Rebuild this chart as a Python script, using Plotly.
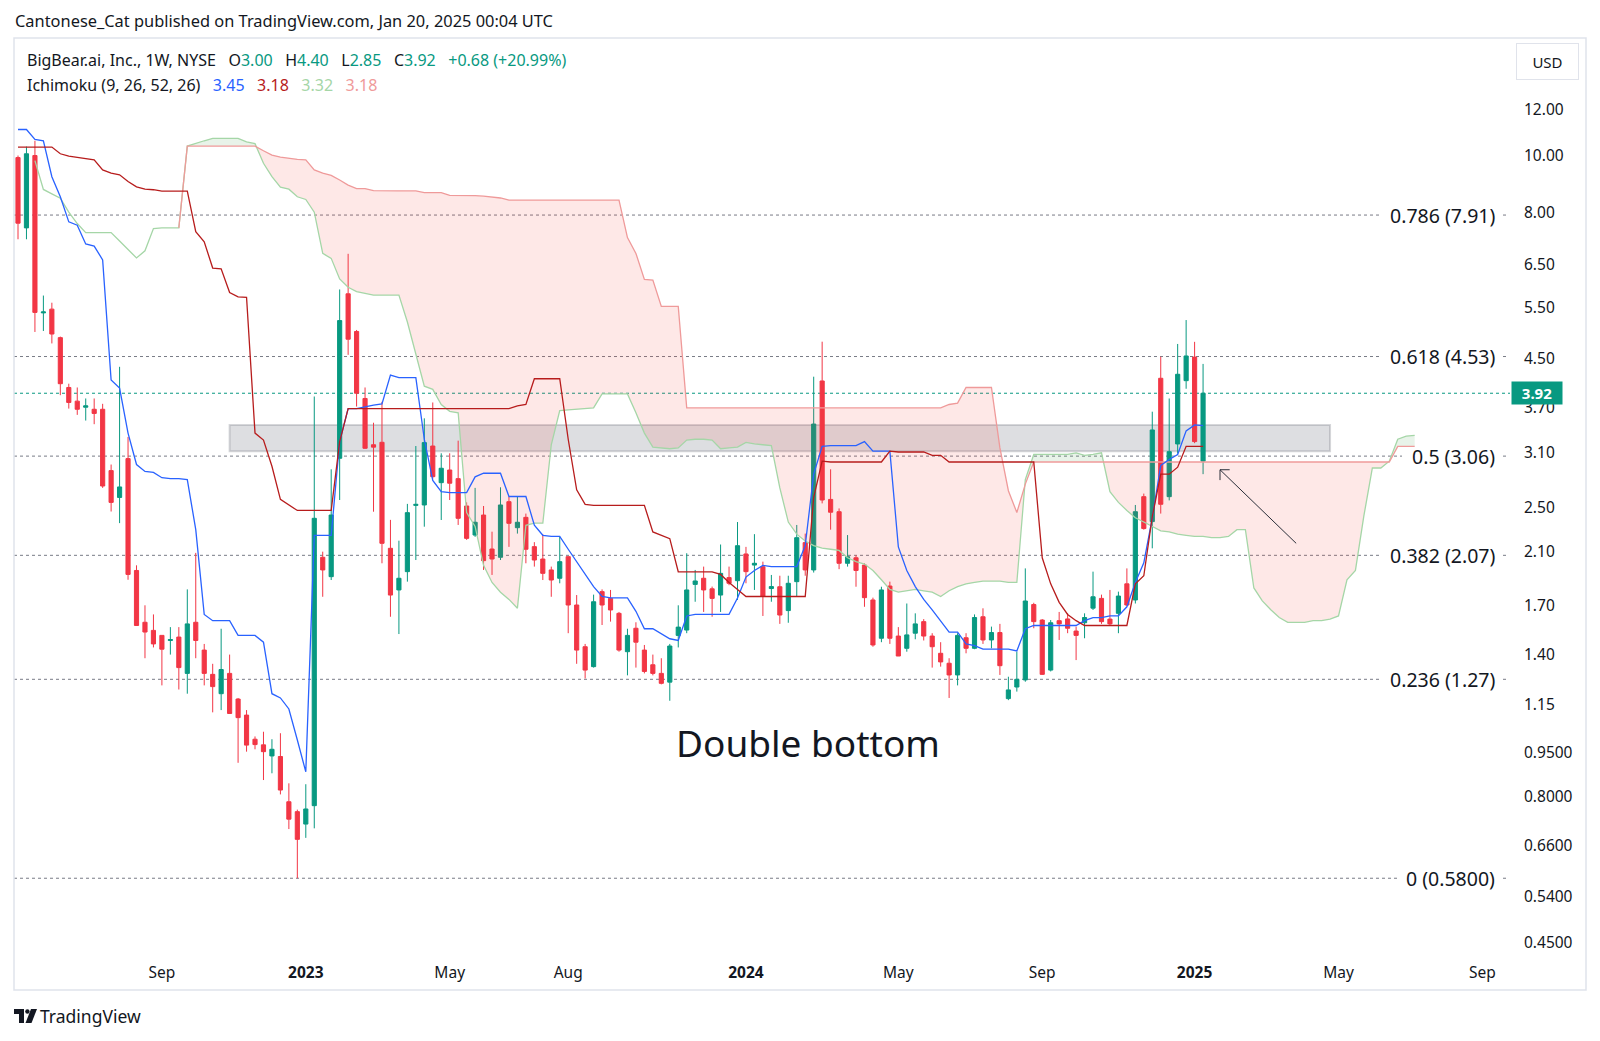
import math
import datetime as dt
import plotly.graph_objects as go

# ---------------- data (weekly bars, BBAI, NYSE) ----------------
FIRST_BAR = dt.datetime(2022, 5, 9)

opens = [9.92, 7.52, 10.0, 5.38, 5.46, 4.88, 4.01, 3.80, 3.71, 3.68,
         3.68, 2.89, 2.60, 3.03, 1.95, 1.59, 1.54, 1.51, 1.48, 1.50,
         1.30, 1.59, 1.425, 1.295, 1.20, 1.30, 1.175, 1.103, 1.003, 0.981,
         0.939, 0.937, 0.784, 0.754, 0.718, 0.772, 2.054, 1.903, 3.034, 5.80,
         5.00, 3.84, 3.20, 3.231, 2.128, 1.806, 1.941, 2.52, 2.524, 3.184,
         2.756, 2.897, 2.80, 2.514, 2.242, 2.426, 2.122, 2.054, 2.557, 2.308,
         2.404, 2.142, 2.04, 1.954, 1.891, 2.059, 1.702, 1.444, 1.335, 1.794,
         1.747, 1.647, 1.416, 1.553, 1.425, 1.345, 1.30, 1.256, 1.51, 1.542,
         1.846, 1.891, 1.814, 1.770, 1.896, 1.873, 2.081, 1.992, 1.979, 1.816,
         1.829, 1.665, 1.866, 2.176, 1.954, 4.114, 2.58, 2.458, 2.006, 2.05,
         1.992, 1.736, 1.493, 1.834, 1.506, 1.435, 1.523, 1.594, 1.506, 1.407,
         1.353, 1.292, 1.496, 1.435, 1.625, 1.483, 1.527, 1.177, 1.232, 1.267,
         1.705, 1.604, 1.317, 1.60, 1.611, 1.536, 1.587, 1.681, 1.747, 1.61,
         1.647, 1.85, 1.736, 2.608, 2.364, 4.158, 2.608, 3.21, 4.119, 4.52,
         3.00]

highs = [10.0, 10.36, 10.6, 5.76, 5.60, 4.90, 4.07, 4.01, 3.84, 3.84,
         3.76, 2.96, 4.35, 3.30, 1.99, 1.70, 1.64, 1.51, 1.56, 1.56,
         1.81, 2.09, 1.46, 1.35, 1.55, 1.40, 1.18, 1.125, 1.014, 1.033,
         1.003, 1.027, 0.843, 0.76, 0.84, 3.87, 2.10, 2.905, 5.90, 6.79,
         5.03, 4.01, 3.49, 3.79, 2.38, 2.193, 2.535, 3.184, 3.551, 3.78,
         3.094, 3.094, 3.252, 2.55, 2.70, 2.514, 2.272, 2.706, 2.61, 2.61,
         2.44, 2.18, 2.25, 1.98, 2.226, 2.059, 1.77, 1.46, 1.773, 1.81,
         1.806, 1.656, 1.55, 1.59, 1.454, 1.40, 1.38, 1.46, 1.70, 2.087,
         1.954, 1.98, 1.83, 2.16, 1.98, 2.36, 2.14, 2.25, 2.019, 1.916,
         1.91, 1.91, 2.333, 2.255, 4.184, 4.803, 2.905, 2.49, 2.242, 2.07,
         2.006, 1.752, 1.829, 1.866, 1.56, 1.712, 1.647, 1.61, 1.523, 1.47,
         1.38, 1.523, 1.523, 1.64, 1.68, 1.563, 1.58, 1.283, 1.416, 1.966,
         1.717, 1.61, 1.604, 1.656, 1.647, 1.563, 1.647, 1.941, 1.773, 1.806,
         1.794, 1.966, 2.524, 2.64, 3.645, 4.527, 3.84, 4.76, 5.23, 4.80,
         4.40]

lows = [7.19, 7.19, 4.99, 5.01, 4.77, 3.89, 3.69, 3.60, 3.52, 3.47,
        2.70, 2.46, 2.35, 1.88, 1.57, 1.38, 1.44, 1.24, 1.40, 1.22,
        1.20, 1.38, 1.24, 1.115, 1.125, 1.11, 0.914, 0.955, 0.964, 0.854,
        0.877, 0.807, 0.704, 0.58, 0.68, 0.706, 1.758, 1.878, 2.574, 4.56,
        3.72, 3.15, 2.458, 2.006, 1.625, 1.518, 1.866, 2.032, 2.317, 2.80,
        2.379, 2.574, 2.333, 2.20, 2.226, 1.954, 1.916, 2.032, 2.14, 2.255,
        2.006, 1.98, 1.878, 1.758, 1.854, 1.523, 1.35, 1.274, 1.33, 1.573,
        1.594, 1.416, 1.29, 1.33, 1.30, 1.29, 1.245, 1.167, 1.44, 1.523,
        1.724, 1.656, 1.625, 1.656, 1.84, 1.736, 1.854, 1.806, 1.63, 1.724,
        1.58, 1.587, 1.758, 1.91, 1.934, 2.54, 2.29, 1.96, 1.98, 1.829,
        1.69, 1.444, 1.47, 1.46, 1.392, 1.416, 1.487, 1.48, 1.33, 1.335,
        1.18, 1.24, 1.407, 1.43, 1.46, 1.435, 1.292, 1.17, 1.21, 1.258,
        1.553, 1.292, 1.31, 1.483, 1.523, 1.37, 1.493, 1.669, 1.58, 1.573,
        1.523, 1.695, 1.712, 2.29, 2.128, 2.44, 2.57, 3.09, 3.99, 3.22,
        2.85]

closes = [7.66, 10.07, 5.39, 5.40, 4.95, 4.07, 3.78, 3.68, 3.73, 3.62,
          2.72, 2.55, 2.71, 1.92, 1.57, 1.53, 1.46, 1.43, 1.485, 1.33,
          1.58, 1.48, 1.30, 1.234, 1.32, 1.11, 1.092, 0.98, 0.982, 0.955,
          0.964, 0.821, 0.732, 0.676, 0.762, 2.395, 1.954, 2.426, 5.22, 4.85,
          3.92, 3.156, 3.17, 2.17, 1.77, 1.891, 2.449, 2.53, 3.227, 2.822,
          2.917, 2.75, 2.395, 2.213, 2.358, 2.027, 2.04, 2.524, 2.348, 2.358,
          2.12, 2.032, 1.928, 1.878, 2.019, 1.702, 1.425, 1.317, 1.724, 1.702,
          1.669, 1.425, 1.51, 1.47, 1.31, 1.30, 1.25, 1.448, 1.56, 1.806,
          1.871, 1.806, 1.747, 1.928, 1.854, 2.15, 1.941, 2.006, 1.763, 1.83,
          1.636, 1.854, 2.219, 1.954, 3.472, 2.574, 2.453, 2.006, 2.059, 1.95,
          1.752, 1.454, 1.806, 1.493, 1.392, 1.513, 1.58, 1.506, 1.444, 1.36,
          1.292, 1.51, 1.435, 1.62, 1.483, 1.527, 1.34, 1.218, 1.27, 1.729,
          1.594, 1.295, 1.587, 1.58, 1.553, 1.51, 1.62, 1.758, 1.594, 1.58,
          1.763, 1.702, 2.458, 2.30, 3.392, 2.531, 3.114, 4.224, 4.54, 3.24,
          3.92]

# Ichimoku (9, 26, 52, 26)
tenkan = [11.08, 11.08, 10.66, 10.6, 9.2, 8.5, 7.7, 7.6, 7.06, 7.0,
          6.63, 4.13, 4.0, 3.35, 2.96, 2.88, 2.87, 2.81, 2.80, 2.80,
          2.79, 2.29, 1.64, 1.60, 1.60, 1.60, 1.51, 1.51, 1.51, 1.47,
          1.20, 1.18, 1.13, 1.00, 0.882, 2.24, 2.24, 2.24, 3.24, 3.69,
          3.69, 3.72, 3.74, 3.76, 4.21, 4.17, 4.17, 4.17, 3.27, 2.78,
          2.66, 2.65, 2.65, 2.65, 2.82, 2.86, 2.86, 2.86, 2.61, 2.61,
          2.61, 2.33, 2.24, 2.23, 2.23, 2.12, 2.02, 1.92, 1.83, 1.76,
          1.75, 1.75, 1.75, 1.66, 1.55, 1.55, 1.52, 1.49, 1.48, 1.63,
          1.64, 1.64, 1.64, 1.64, 1.64, 1.75, 1.90, 1.95, 1.99, 1.98,
          1.98, 1.98, 1.98, 2.15, 2.85, 3.18, 3.19, 3.19, 3.19, 3.19,
          3.24, 3.12, 3.12, 3.12, 2.14, 1.95, 1.83, 1.74, 1.67, 1.60,
          1.53, 1.53, 1.46, 1.45, 1.43, 1.43, 1.43, 1.43, 1.42, 1.55,
          1.57, 1.57, 1.57, 1.57, 1.57, 1.57, 1.60, 1.62, 1.62, 1.63,
          1.63, 1.69, 1.86, 2.01, 2.40, 2.95, 3.02, 3.08, 3.38, 3.46,
          3.45]

kijun = [10.34, 10.34, 10.34, 10.34, 10.34, 10.07, 9.98, 9.93, 9.88, 9.83,
         9.45, 9.33, 9.27, 9.03, 8.84, 8.76, 8.74, 8.69, 8.69, 8.69,
         8.69, 7.41, 7.12, 6.42, 6.40, 5.83, 5.73, 5.72, 3.35, 3.26,
         2.94, 2.58, 2.52, 2.47, 2.47, 2.47, 2.47, 2.47, 3.24, 3.69,
         3.69, 3.69, 3.69, 3.69, 3.69, 3.69, 3.69, 3.69, 3.69, 3.69,
         3.69, 3.69, 3.69, 3.69, 3.69, 3.69, 3.69, 3.69, 3.69, 3.73,
         3.75, 4.15, 4.15, 4.15, 4.15, 3.27, 2.68, 2.53, 2.52, 2.52,
         2.52, 2.52, 2.52, 2.52, 2.52, 2.27, 2.24, 2.21, 1.94, 1.94,
         1.94, 1.94, 1.94, 1.92, 1.86, 1.81, 1.76, 1.76, 1.76, 1.76,
         1.76, 1.76, 1.76, 1.76, 2.60, 3.00, 2.99, 2.99, 2.99, 2.99,
         2.99, 2.99, 2.99, 3.12, 3.11, 3.11, 3.11, 3.11, 3.07, 3.07,
         2.99, 2.99, 2.99, 2.99, 2.99, 2.99, 2.99, 2.99, 2.99, 2.99,
         2.99, 2.05, 1.85, 1.72, 1.64, 1.60, 1.57, 1.57, 1.57, 1.57,
         1.57, 1.57, 1.85, 1.91, 2.41, 2.85, 2.85, 2.93, 3.18, 3.18,
         3.18]

# leading spans (plotted 25 bars ahead, so 166 points)
span_a = [None, None, 9.8, 8.75, 8.6, 8.45, 8.0, 7.65, 7.38, 7.38,
          7.38, 7.38, 7.14, 6.92, 6.68, 6.87, 7.5, 7.52, 7.52, 7.52,
          10.38, 10.5, 10.6, 10.7, 10.7, 10.7, 10.7, 10.55, 10.48, 9.7,
          9.2, 8.83, 8.76, 8.5, 8.41, 8.0, 6.8, 6.67, 6.15, 5.95,
          5.85, 5.81, 5.77, 5.77, 5.77, 5.77, 5.19, 4.57, 4.03, 3.98,
          3.75, 3.65, 3.63, 2.45, 2.32, 1.99, 1.86, 1.79, 1.74, 1.68,
          2.33, 2.35, 2.35, 3.2, 3.66, 3.67, 3.68, 3.69, 3.70, 3.91,
          3.91, 3.91, 3.91, 3.63, 3.35, 3.17, 3.16, 3.15, 3.16, 3.26,
          3.27, 3.27, 3.26, 3.15, 3.16, 3.17, 3.23, 3.21, 3.20, 3.19,
          2.70, 2.36, 2.25, 2.19, 2.15, 2.13, 2.12, 2.11, 2.05, 2.02,
          2.00, 1.95, 1.88, 1.81, 1.79, 1.80, 1.81, 1.80, 1.79, 1.76,
          1.80, 1.83, 1.85, 1.86, 1.87, 1.87, 1.87, 1.86, 1.86, 2.79,
          3.08, 3.08, 3.08, 3.08, 3.08, 3.10, 3.07, 3.08, 3.10, 2.66,
          2.55, 2.47, 2.40, 2.36, 2.32, 2.28, 2.27, 2.25, 2.24, 2.23,
          2.23, 2.22, 2.22, 2.23, 2.29, 2.29, 1.82, 1.73, 1.67, 1.62,
          1.59, 1.59, 1.59, 1.60, 1.60, 1.61, 1.63, 1.88, 1.95, 2.42,
          2.92, 2.92, 3.00, 3.27, 3.31, 3.32]

span_b = [None, None, None, None, None, None, None, None, None, None,
          None, None, None, None, None, None, None, None, None, 7.52,
          10.38, 10.38, 10.38, 10.38, 10.38, 10.38, 10.38, 10.38, 10.38, 10.19,
          10.02, 9.94, 9.89, 9.85, 9.83, 9.45, 9.33, 9.25, 9.08, 8.9,
          8.78, 8.78, 8.71, 8.7, 8.7, 8.7, 8.7, 8.7, 8.64, 8.64,
          8.64, 8.55, 8.55, 8.55, 8.54, 8.52, 8.50, 8.46, 8.39, 8.39,
          8.39, 8.39, 8.39, 8.39, 8.39, 8.39, 8.39, 8.39, 8.39, 8.39,
          8.39, 8.39, 7.24, 6.80, 6.14, 6.12, 5.52, 5.52, 5.52, 3.70,
          3.70, 3.70, 3.70, 3.70, 3.70, 3.70, 3.70, 3.70, 3.70, 3.70,
          3.70, 3.70, 3.70, 3.70, 3.70, 3.70, 3.70, 3.70, 3.70, 3.70,
          3.70, 3.70, 3.70, 3.70, 3.70, 3.70, 3.70, 3.70, 3.70, 3.70,
          3.75, 3.77, 4.01, 4.01, 4.01, 4.01, 3.16, 2.67, 2.45, 2.74,
          2.99, 2.99, 2.99, 2.99, 2.99, 2.99, 2.99, 2.99, 2.99, 2.99,
          2.99, 2.99, 2.99, 2.99, 2.99, 2.99, 2.99, 2.99, 2.99, 2.99,
          2.99, 2.99, 2.99, 2.99, 2.99, 2.99, 2.99, 2.99, 2.99, 2.99,
          2.99, 2.99, 2.99, 2.99, 2.99, 2.99, 2.99, 2.99, 2.99, 2.99,
          2.99, 2.99, 2.99, 3.18, 3.18, 3.18]

# Fibonacci retracement levels
fib_ratios = ["0.786", "0.618", "0.5", "0.382", "0.236", "0"]
fib_prices = [7.91, 4.53, 3.06, 2.07, 1.27, 0.58]
fib_price_text = ["7.91", "4.53", "3.06", "2.07", "1.27", "0.5800"]
fib_label_left = [1390, 1390, 1410, 1390, 1390, 1408]   # where each label starts (px)

# price-axis ticks
ytick_vals = [12, 10, 8, 6.5, 5.5, 4.5, 3.7, 3.1, 2.5, 2.1, 1.7, 1.4, 1.15,
              0.95, 0.8, 0.66, 0.54, 0.45]
ytick_text = ["12.00", "10.00", "8.00", "6.50", "5.50", "4.50", "3.70", "3.10",
              "2.50", "2.10", "1.70", "1.40", "1.15", "0.9500", "0.8000",
              "0.6600", "0.5400", "0.4500"]

# time-axis ticks
xtick_dates = ["2022-09-05", "2023-01-02", "2023-05-01", "2023-08-07", "2024-01-01",
               "2024-05-06", "2024-09-02", "2025-01-06", "2025-05-05", "2025-09-01"]
xtick_text = ["Sep", "<b>2023</b>", "May", "Aug", "<b>2024</b>", "May", "Sep",
              "<b>2025</b>", "May", "Sep"]

# drawings
zone_start, zone_end = "2022-10-31", "2025-04-28"
zone_low, zone_high = 3.12, 3.46
arrow_tip = ("2025-01-27", 2.90)
arrow_tail = ("2025-03-31", 2.17)

# ---------------- figure ----------------
UP, DOWN, TXT = "#089981", "#F23645", "#131722"
FONT = "Noto Sans"
W, H = 1600, 1041
PL, PR, PT, PB = 14, 1510, 38, 958   # plot area in pixels


def pxx(x):
    return (x - PL) / (PR - PL)


def pxy(y):
    return (PB - y) / (PB - PT)


n_bars = len(closes)
dates = [FIRST_BAR + dt.timedelta(days=7 * i) for i in range(len(span_a))]
bar_dates = dates[:n_bars]

fig = go.Figure()


def cloud_polygons(xs, a, b):
    polys = []
    top, bot, sign = [], [], None

    def flush():
        if sign is not None and len(top) >= 2:
            polys.append((sign, [p[0] for p in top] + [p[0] for p in reversed(bot)],
                          [p[1] for p in top] + [p[1] for p in reversed(bot)]))

    for i in range(len(xs)):
        if a[i] is None or b[i] is None:
            flush()
            top, bot, sign = [], [], None
            continue
        s = a[i] >= b[i]
        if sign is None:
            sign, top, bot = s, [(xs[i], a[i])], [(xs[i], b[i])]
            continue
        if s != sign:
            la0, lb0 = math.log(a[i - 1]), math.log(b[i - 1])
            la1, lb1 = math.log(a[i]), math.log(b[i])
            d0, d1 = la0 - lb0, la1 - lb1
            t = d0 / (d0 - d1)
            xc = xs[i - 1] + (xs[i] - xs[i - 1]) * t
            yc = math.exp(la0 + (la1 - la0) * t)
            top.append((xc, yc))
            bot.append((xc, yc))
            flush()
            sign = s
            top = [(xc, yc), (xs[i], a[i])]
            bot = [(xc, yc), (xs[i], b[i])]
        else:
            top.append((xs[i], a[i]))
            bot.append((xs[i], b[i]))
    flush()
    return polys


gx, gy, rx, ry = [], [], [], []
for bull, xs_, ys_ in cloud_polygons(dates, span_a, span_b):
    if bull:
        gx += xs_ + [None]
        gy += ys_ + [None]
    else:
        rx += xs_ + [None]
        ry += ys_ + [None]

fig.add_trace(go.Scatter(x=rx, y=ry, fill="toself", mode="lines", line=dict(width=0),
                         fillcolor="rgba(244,67,54,0.12)", hoverinfo="skip"))
fig.add_trace(go.Scatter(x=gx, y=gy, fill="toself", mode="lines", line=dict(width=0),
                         fillcolor="rgba(67,160,71,0.12)", hoverinfo="skip"))
fig.add_trace(go.Scatter(x=dates, y=span_a, mode="lines",
                         line=dict(color="#A5D6A7", width=1.3), hoverinfo="skip"))
fig.add_trace(go.Scatter(x=dates, y=span_b, mode="lines",
                         line=dict(color="#EF9A9A", width=1.3), hoverinfo="skip"))

fig.add_trace(go.Candlestick(
    x=bar_dates, open=opens, high=highs, low=lows, close=closes,
    increasing=dict(line=dict(color=UP, width=1), fillcolor=UP),
    decreasing=dict(line=dict(color=DOWN, width=1), fillcolor=DOWN),
    whiskerwidth=0, hoverinfo="skip"))

fig.add_trace(go.Scatter(x=bar_dates, y=tenkan, mode="lines",
                         line=dict(color="#2962FF", width=1.3), hoverinfo="skip"))
fig.add_trace(go.Scatter(x=bar_dates, y=kijun, mode="lines",
                         line=dict(color="#B71C1C", width=1.3), hoverinfo="skip"))

shapes = []
annotations = []

# support zone box
shapes.append(dict(type="rect", xref="x", yref="y", x0=zone_start, x1=zone_end,
                   y0=zone_low, y1=zone_high, layer="below",
                   fillcolor="rgba(120,123,134,0.25)",
                   line=dict(color="rgba(120,123,134,0.30)", width=2)))

# fib levels
for ratio, price, ptxt, lx in zip(fib_ratios, fib_prices, fib_price_text, fib_label_left):
    label = f"{ratio} ({ptxt})"
    shapes.append(dict(type="line", xref="paper", yref="y", x0=0,
                       x1=pxx(lx - 8), y0=price, y1=price, layer="below",
                       line=dict(color="#787B86", width=1, dash="dot")))
    shapes.append(dict(type="line", xref="paper", yref="y", x0=pxx(1503), x1=pxx(1509),
                       y0=price, y1=price, layer="below",
                       line=dict(color="#787B86", width=1, dash="dot")))
    annotations.append(dict(xref="paper", yref="y", x=pxx(1497), y=math.log10(price),
                            xanchor="right", yanchor="middle", showarrow=False,
                            text=label, font=dict(family=FONT, size=19.5, color=TXT)))

# last price line + label
last = closes[-1]
shapes.append(dict(type="line", xref="paper", yref="y", x0=0, x1=1, y0=last, y1=last,
                   layer="below", line=dict(color=UP, width=1, dash="dot")))
annotations.append(dict(xref="paper", yref="y", x=pxx(1511), y=math.log10(last),
                        xanchor="left", yanchor="middle", showarrow=False,
                        text=f"<b>{last:.2f}</b>", bgcolor=UP, width=46, height=18,
                        borderpad=2, font=dict(family=FONT, size=15, color="white")))

# arrow drawing
shapes.append(dict(type="line", xref="x", yref="y", x0=arrow_tail[0], y0=arrow_tail[1],
                   x1=arrow_tip[0], y1=arrow_tip[1], line=dict(color="#2A2E39", width=1)))
shapes.append(dict(type="line", xref="x", yref="y", x0=arrow_tip[0], y0=arrow_tip[1],
                   x1="2025-02-04", y1=arrow_tip[1], line=dict(color="#2A2E39", width=1)))
shapes.append(dict(type="line", xref="x", yref="y", x0=arrow_tip[0], y0=arrow_tip[1],
                   x1=arrow_tip[0], y1=arrow_tip[1] * 0.96, line=dict(color="#2A2E39", width=1)))

# outer frame
shapes.append(dict(type="rect", xref="paper", yref="paper", x0=pxx(14), x1=pxx(1586),
                   y0=pxy(990), y1=pxy(38), layer="below",
                   line=dict(color="#E0E3EB", width=1.5)))


def path_from(points):
    return "M " + " L ".join(f"{pxx(x):.5f},{pxy(y):.5f}" for x, y in points) + " Z"


# TradingView logo (approximation)
shapes.append(dict(type="path", xref="paper", yref="paper",
                   path=path_from([(14, 1009), (24, 1009), (24, 1023), (19, 1023), (19, 1014), (14, 1014)]),
                   fillcolor=TXT, line=dict(width=0)))
shapes.append(dict(type="circle", xref="paper", yref="paper", x0=pxx(25.2), x1=pxx(29.6),
                   y0=pxy(1013.7), y1=pxy(1009.3), fillcolor=TXT, line=dict(width=0)))
shapes.append(dict(type="path", xref="paper", yref="paper",
                   path=path_from([(31, 1009), (37, 1009), (31.5, 1023), (25.5, 1023)]),
                   fillcolor=TXT, line=dict(width=0)))

# header texts
annotations.append(dict(xref="paper", yref="paper", x=pxx(13), y=pxy(20.5), xanchor="left",
                        yanchor="middle", showarrow=False,
                        text="Cantonese_Cat published on TradingView.com, Jan 20, 2025 00:04 UTC",
                        font=dict(family=FONT, size=16.4, color=TXT)))

chg = closes[-1] - closes[-2]
pct = chg / closes[-2] * 100
g = lambda s: f'<span style="color:{UP}">{s}</span>'
sp = "\u00a0\u00a0\u00a0"
legend1 = ("BigBear.ai, Inc., 1W, NYSE" + sp + "O" + g(f"{opens[-1]:.2f}") + sp + "H" +
           g(f"{highs[-1]:.2f}") + sp + "L" + g(f"{lows[-1]:.2f}") + sp + "C" +
           g(f"{closes[-1]:.2f}") + sp + g(f"{chg:+.2f} ({pct:+.2f}%)"))
legend2 = ("Ichimoku (9, 26, 52, 26)" + sp +
           f'<span style="color:#2962FF">{tenkan[-1]:.2f}</span>' + sp +
           f'<span style="color:#B71C1C">{kijun[-1]:.2f}</span>' + sp +
           f'<span style="color:#A5D6A7">{span_a[-1]:.2f}</span>' + sp +
           f'<span style="color:#EF9A9A">{span_b[-1]:.2f}</span>')
annotations.append(dict(xref="paper", yref="paper", x=pxx(25), y=pxy(60), xanchor="left",
                        yanchor="middle", showarrow=False, text=legend1,
                        font=dict(family=FONT, size=16, color=TXT)))
annotations.append(dict(xref="paper", yref="paper", x=pxx(25), y=pxy(84.5), xanchor="left",
                        yanchor="middle", showarrow=False, text=legend2,
                        font=dict(family=FONT, size=16, color=TXT)))

# USD box
annotations.append(dict(xref="paper", yref="paper", x=pxx(1547.5), y=pxy(62), xanchor="center",
                        yanchor="middle", showarrow=False, text="USD", width=45, height=19,
                        borderpad=8, bordercolor="#E0E3EB", borderwidth=1, bgcolor="white",
                        font=dict(family=FONT, size=15, color=TXT)))

# Double bottom text
annotations.append(dict(xref="paper", yref="paper", x=pxx(808), y=pxy(742), xanchor="center",
                        yanchor="middle", showarrow=False, text="Double bottom",
                        font=dict(family=FONT, size=37, color=TXT)))

# TradingView footer
annotations.append(dict(xref="paper", yref="paper", x=pxx(38), y=pxy(1016), xanchor="left",
                        yanchor="middle", showarrow=False, text="TradingView",
                        font=dict(family=FONT, size=17.5, color=TXT)))

x_left = FIRST_BAR + dt.timedelta(days=7 * (-0.4725))
x_right = FIRST_BAR + dt.timedelta(days=7 * 176.26)

fig.update_layout(
    width=W, height=H, autosize=False, showlegend=False,
    margin=dict(l=PL, r=W - PR, t=PT, b=H - PB, pad=0),
    paper_bgcolor="white", plot_bgcolor="white",
    font=dict(family=FONT, color=TXT),
    shapes=shapes, annotations=annotations, hovermode=False,
    xaxis=dict(type="date", range=[x_left, x_right], tickvals=xtick_dates, ticktext=xtick_text,
               showgrid=False, zeroline=False, showline=False, ticks="",
               tickfont=dict(family=FONT, size=15.5, color=TXT), ticklabelstandoff=3,
               rangeslider=dict(visible=False), fixedrange=True),
    yaxis=dict(type="log", side="right", range=[math.log10(0.4236), math.log10(15.89)],
               tickvals=ytick_vals, ticktext=ytick_text, showgrid=False, zeroline=False,
               showline=False, ticks="", ticklabelstandoff=13,
               tickfont=dict(family=FONT, size=15.5, color=TXT), fixedrange=True),
)

fig.write_html("out.html")
